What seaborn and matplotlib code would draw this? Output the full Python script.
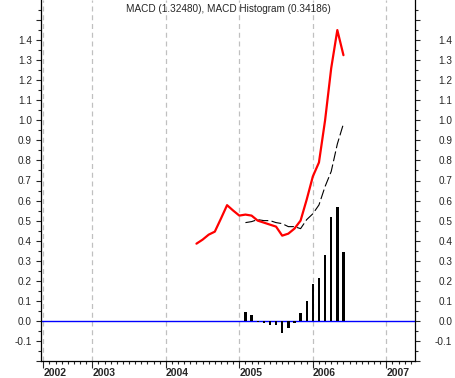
import numpy as np
import pandas as pd
import matplotlib
matplotlib.use("Agg")
import matplotlib.pyplot as plt
import seaborn as sns
from matplotlib.ticker import FixedLocator, NullFormatter
from matplotlib.transforms import ScaledTranslation

# ---- data ----
macd_start = "2004-06-01"
macd_values = [0.385, 0.405, 0.43, 0.445, 0.51, 0.577, 0.55, 0.525, 0.53, 0.525,
               0.50, 0.49, 0.48, 0.47, 0.425, 0.435, 0.46, 0.50, 0.605, 0.72,
               0.79, 1.00, 1.26, 1.45, 1.3248]
signal_start = "2005-02-01"
signal_values = [0.49, 0.495, 0.505, 0.50, 0.50, 0.49, 0.485, 0.47, 0.47, 0.46,
                 0.505, 0.534, 0.578, 0.67, 0.745, 0.882, 0.983]
hist_values = [0.046, 0.03, -0.008, -0.01, -0.02, -0.02, -0.06, -0.035, -0.01,
               0.041, 0.10, 0.186, 0.212, 0.327, 0.52, 0.568, 0.342]
year_ticks = [2002 + 4 / 12, 2003, 2004, 2005, 2006, 2007]
year_labels = ["2002", "2003", "2004", "2005", "2006", "2007"]
title_text = "MACD (1.32480), MACD Histogram (0.34186)"


def frac_year(start, n):
    d = pd.date_range(start, periods=n, freq="MS")
    return d.year + (d.month - 1) / 12.0


macd_df = pd.DataFrame({"x": frac_year(macd_start, len(macd_values)), "y": macd_values})
sig_df = pd.DataFrame({"x": frac_year(signal_start, len(signal_values)), "y": signal_values})
hist_df = pd.DataFrame({"x": frac_year(signal_start, len(hist_values)), "y": hist_values})

sns.set_style("ticks")
plt.rcParams["font.family"] = ["Liberation Sans", "DejaVu Sans"]

fig = plt.figure(figsize=(4.56, 3.78), dpi=100)
ax = fig.add_axes([41 / 456, 17 / 378, (415 - 41) / 456, 361 / 378])

# grid lines at year ticks
for xv in year_ticks:
    ax.axvline(xv, color="#c0c0c0", lw=0.9, ls=(0, (4, 3)), zorder=0)

ax.axhline(0, color="#0000ff", lw=1.0, zorder=1)
ax.bar(hist_df["x"], hist_df["y"], width=0.032, color="black",
       edgecolor="none", linewidth=0, zorder=2)
sns.lineplot(data=sig_df, x="x", y="y", ax=ax, color="black", lw=0.8,
             linestyle=(0, (9, 3)), zorder=3)
sns.lineplot(data=macd_df, x="x", y="y", ax=ax, color="#ff0000", lw=1.6, zorder=4)

ax.set_xlim(2002.302, 2007.39)
ax.set_ylim(-0.2, 1.6)
ax.set_xlabel("")
ax.set_ylabel("")

# y ticks both sides
ymaj = np.round(np.arange(-0.2, 1.51, 0.1), 2)
ymin = np.round(np.arange(-0.15, 1.6, 0.1), 2)
ax.yaxis.set_major_locator(FixedLocator(ymaj))
ax.yaxis.set_minor_locator(FixedLocator(ymin))
ylabels = [f"{v:.1f}" if -0.15 < v < 1.45 else "" for v in ymaj]
ax.set_yticklabels(ylabels)
ax.tick_params(axis="y", which="major", direction="out", length=3.6, width=0.8,
               left=True, right=True, labelleft=True, labelright=True,
               labelsize=7.2, pad=3.0)
ax.tick_params(axis="y", which="minor", direction="out", length=2.2, width=0.8,
               left=True, right=True)
# x ticks
ax.xaxis.set_major_locator(FixedLocator(year_ticks))
ax.set_xticklabels(year_labels)
xmin_ticks = [2002 + 4 / 12 + i / 12 for i in range(61)]
ax.xaxis.set_minor_locator(FixedLocator(xmin_ticks))
ax.xaxis.set_minor_formatter(NullFormatter())
ax.tick_params(axis="x", which="major", direction="out", length=5.0, width=0.8,
               labelsize=7.5, pad=0.3)
ax.tick_params(axis="x", which="minor", direction="out", length=2.4, width=0.8)

for t in ax.xaxis.get_major_ticks():
    t.label1.set_horizontalalignment("left")
    t.label1.set_fontweight("bold")
for t in ax.yaxis.get_major_ticks():
    t.label2.set_horizontalalignment("right")

for s in ["left", "right", "bottom"]:
    ax.spines[s].set_color("black")
    ax.spines[s].set_linewidth(0.9)
ax.spines["top"].set_visible(False)

ax.text(0.5, 1 - 8.7 / 361, title_text, transform=ax.transAxes,
        ha="center", va="center", fontsize=7.2)

# right labels right-aligned near figure edge
off = ScaledTranslation(28 / 100, 0, fig.dpi_scale_trans)
for t in ax.yaxis.get_major_ticks():
    t.label2.set_transform(t.label2.get_transform() + off)

fig.savefig("out.png", dpi=100, facecolor="white")
